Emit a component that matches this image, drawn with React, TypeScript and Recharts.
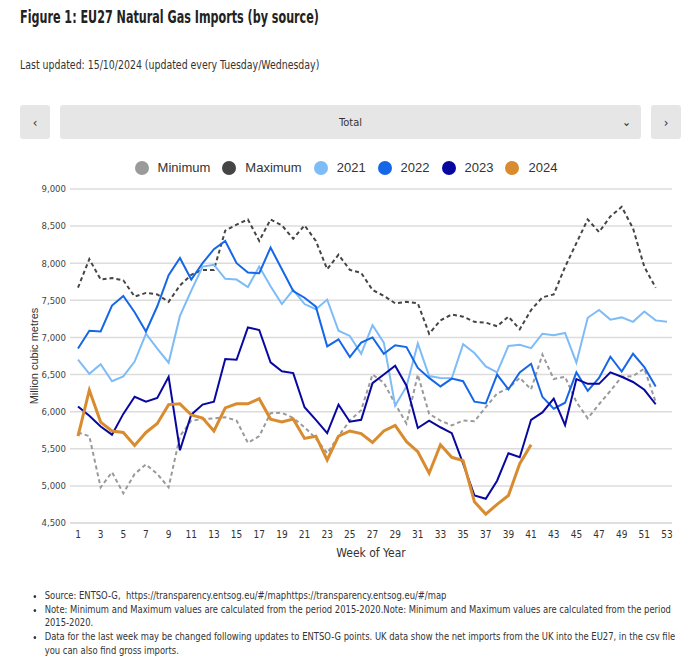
import { CartesianGrid, Line, LineChart, XAxis, YAxis } from "recharts";

const weeks = Array.from({ length: 53 }, (_, i) => i + 1);

const minimum = [
  5720, 5670, 4980, 5185, 4900, 5160, 5290, 5160, 4980, 5670,
  5880, 5900, 5910, 5925, 5880, 5580, 5670, 5980, 5985, 5915,
  5790, 5640, 5440, 5670, 5880, 6020, 6500, 6390, 6105, 5840,
  6500, 5970, 5880, 5815, 5880, 5870, 6060, 6245, 6315, 6455,
  6300, 6770, 6440, 6470, 6130, 5910, 6100, 6280, 6470, 6480,
  6580, 6130, null,
];
const maximum = [
  7670, 8055, 7780, 7800, 7770, 7550, 7600, 7580, 7480, 7700,
  7845, 7910, 7910, 8440, 8520, 8590, 8300, 8590, 8510, 8330,
  8510, 8300, 7920, 8115, 7910, 7870, 7640, 7560, 7460, 7480,
  7460, 7050, 7230, 7310, 7280, 7210, 7200, 7150, 7280, 7110,
  7370, 7540, 7580, 7950, 8270, 8590, 8420, 8630, 8760, 8470,
  7950, 7670, null,
];
const y2021 = [
  6700, 6510, 6640, 6410, 6475, 6675, 7050, 6850, 6660, 7290,
  7630, 7955, 7980, 7790, 7780, 7680, 7955, 7690, 7450, 7640,
  7450, 7380, 7510, 7090, 7020, 6780, 7165, 6930, 6080, 6340,
  6920, 6480, 6455, 6450, 6910, 6790, 6610, 6530, 6885, 6900,
  6855, 7050, 7030, 7060, 6660, 7265, 7370, 7240, 7270, 7210,
  7350, 7230, 7210,
];
const y2022 = [
  6850, 7090, 7080, 7430, 7560, 7340, 7080, 7420, 7840, 8070,
  7780, 8000, 8190, 8300, 8000, 7875, 7865, 8210, 7920, 7625,
  7535, 7415, 6880, 6975, 6735, 6930, 7000, 6780, 6895, 6870,
  6590, 6455, 6340, 6445, 6410, 6135, 6110, 6500, 6300, 6530,
  6645, 6200, 6040, 6120, 6530, 6280, 6455, 6740, 6540, 6780,
  6600, 6340, null,
];
const y2023 = [
  6070, 5945, 5800, 5690, 5970, 6200, 6135, 6185, 6470, 5480,
  5960, 6095, 6135, 6710, 6700, 7135, 7100, 6665, 6545, 6520,
  6060, 5890, 5710, 6095, 5865, 5890, 6385, 6500, 6620, 6350,
  5780, 5880, 5790, 5710, 5300, 4870, 4826, 5070, 5440, 5385,
  5890, 5990, 6175, 5820, 6440, 6375, 6375, 6530, 6470, 6400,
  6295, 6100, null,
];
const y2024 = [
  5670, 6290, 5860, 5740, 5720, 5545, 5720, 5840, 6095, 6105,
  5955, 5915, 5740, 6050, 6105, 6105, 6175, 5900, 5860, 5900,
  5640, 5670, 5350, 5670, 5740, 5705, 5585, 5740, 5815, 5595,
  5460, 5170, 5555, 5385, 5340, 4785, 4620, 4750, 4870, 5300,
  5555,
];

const xTicks = weeks.filter((w) => w % 2 === 1);
const yTicks = [4500, 5000, 5500, 6000, 6500, 7000, 7500, 8000, 8500, 9000];

const series = [
  { key: "Minimum", values: minimum, color: "#9a9a9a", width: 2, dash: "4 3" },
  { key: "Maximum", values: maximum, color: "#454545", width: 2, dash: "4 3" },
  { key: "2021", values: y2021, color: "#7dbcf7", width: 2 },
  { key: "2022", values: y2022, color: "#1567e8", width: 2 },
  { key: "2023", values: y2023, color: "#0808a0", width: 2 },
  { key: "2024", values: y2024, color: "#d98c2f", width: 3 },
];

// no narrow web font offline, so condensed DejaVu squeezed a bit more
const narrow = '"DejaVu Sans Condensed", sans-serif';

const data = weeks.map((week, i) => {
  const row: Record<string, number | null> = { week };
  series.forEach((s) => {
    row[s.key] = s.values[i] ?? null;
  });
  return row;
});

const btn = {
  position: "absolute" as const,
  top: 105,
  height: 34,
  background: "#e6e6e6",
  borderRadius: 3,
  display: "flex",
  alignItems: "center",
  justifyContent: "center",
  fontFamily: narrow,
  fontSize: 13,
  color: "#333",
};

const squeeze = (k: number) => ({ transform: `scaleX(${k})`, transformOrigin: "left top", whiteSpace: "nowrap" as const });

export default function App() {
  return (
    <div style={{ position: "absolute", left: 0, top: 0, width: 700, height: 665, background: "#fff", color: "#333" }}>
      <div style={{ position: "absolute", left: 20, top: 7, fontFamily: narrow, fontWeight: 700, fontSize: 17, color: "#222", ...squeeze(0.73) }}>
        Figure 1: EU27 Natural Gas Imports (by source)
      </div>
      <div style={{ position: "absolute", left: 20, top: 58, fontFamily: narrow, fontSize: 12, color: "#333", ...squeeze(0.87) }}>
        Last updated: 15/10/2024 (updated every Tuesday/Wednesday)
      </div>

      <div style={{ ...btn, left: 20, width: 30 }}>‹</div>
      <div style={{ ...btn, left: 60, width: 581, fontSize: 11 }}>
        Total
        <span style={{ position: "absolute", right: 10, fontSize: 12 }}>⌄</span>
      </div>
      <div style={{ ...btn, left: 651, width: 30 }}>›</div>

      <div style={{ position: "absolute", top: 160, left: 0, width: 700, display: "flex", justifyContent: "center", paddingLeft: 4, boxSizing: "border-box", fontFamily: '"Liberation Sans", sans-serif', fontSize: 13, color: "#333" }}>
        {series.map((s) => (
          <div key={s.key} style={{ display: "flex", alignItems: "center", marginRight: 12 }}>
            <span style={{ width: 14, height: 14, borderRadius: 7, background: s.color, marginRight: 9 }} />
            {s.key}
          </div>
        ))}
      </div>

      <div style={{ position: "absolute", top: 150, left: 0 }}>
        <LineChart width={700} height={420} data={data} margin={{ top: 39, right: 28, bottom: 17, left: 10 }}>
          <CartesianGrid vertical={false} stroke="#dcdcdc" strokeWidth={1.5} />
          <XAxis
            dataKey="week"
            type="number"
            domain={[1, 53]}
            ticks={xTicks}
            padding={{ left: 8, right: 5 }}
            tickLine={false}
            axisLine={{ stroke: "#dcdcdc", strokeWidth: 1.5 }}
            height={30}
            tick={{ fontSize: 10, fill: "#333", fontFamily: narrow }}
            label={{ value: "Week of Year", position: "insideBottom", offset: -4, style: { fontSize: 12, fill: "#333", fontFamily: narrow } }}
          />
          <YAxis
            domain={[4500, 9000]}
            ticks={yTicks}
            width={60}
            tickLine={false}
            tickSize={0}
            tickMargin={4}
            axisLine={false}
            tick={{ fontSize: 9.5, fill: "#444", fontFamily: narrow }}
            tickFormatter={(v: number) => v.toLocaleString("en-US")}
            label={{ value: "Million cubic metres", angle: -90, position: "insideLeft", offset: 24, style: { textAnchor: "middle", fontSize: 11, fill: "#333", fontFamily: '"Liberation Sans", sans-serif' } }}
          />
          {series.map((s) => (
            <Line
              key={s.key}
              dataKey={s.key}
              type="linear"
              stroke={s.color}
              strokeWidth={s.width}
              strokeDasharray={s.dash}
              dot={false}
              activeDot={false}
              isAnimationActive={false}
            />
          ))}
        </LineChart>
      </div>

      <div style={{ position: "absolute", top: 589, left: 20, transform: "scaleX(0.85)", transformOrigin: "left top" }}>
        <ul style={{ width: 771, margin: 0, paddingLeft: 29, fontFamily: narrow, fontSize: 11, lineHeight: "13.7px", color: "#333", boxSizing: "border-box" }}>
          <li>Source: ENTSO-G, &nbsp;https://transparency.entsog.eu/#/maphttps://transparency.entsog.eu/#/map</li>
          <li>Note: Minimum and Maximum values are calculated from the period 2015-2020.Note: Minimum and Maximum values are calculated from the period 2015-2020.</li>
          <li>Data for the last week may be changed following updates to ENTSO-G points. UK data show the net imports from the UK into the EU27, in the csv file you can also find gross imports.</li>
        </ul>
      </div>
    </div>
  );
}
